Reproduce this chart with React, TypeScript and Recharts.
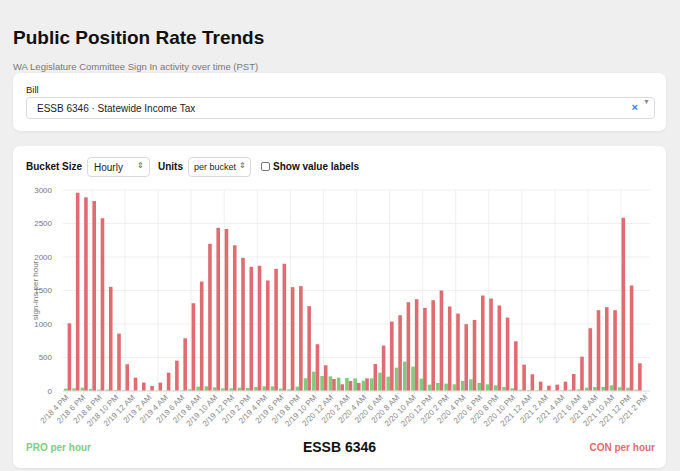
import { BarChart, Bar, XAxis, YAxis, CartesianGrid } from "recharts";

const hours = [
  "2/18 4 PM", "2/18 5 PM", "2/18 6 PM", "2/18 7 PM", "2/18 8 PM", "2/18 9 PM", "2/18 10 PM", "2/18 11 PM",
  "2/19 12 AM", "2/19 1 AM", "2/19 2 AM", "2/19 3 AM", "2/19 4 AM", "2/19 5 AM", "2/19 6 AM", "2/19 7 AM",
  "2/19 8 AM", "2/19 9 AM", "2/19 10 AM", "2/19 11 AM", "2/19 12 PM", "2/19 1 PM", "2/19 2 PM", "2/19 3 PM",
  "2/19 4 PM", "2/19 5 PM", "2/19 6 PM", "2/19 7 PM", "2/19 8 PM", "2/19 9 PM", "2/19 10 PM", "2/19 11 PM",
  "2/20 12 AM", "2/20 1 AM", "2/20 2 AM", "2/20 3 AM", "2/20 4 AM", "2/20 5 AM", "2/20 6 AM", "2/20 7 AM",
  "2/20 8 AM", "2/20 9 AM", "2/20 10 AM", "2/20 11 AM", "2/20 12 PM", "2/20 1 PM", "2/20 2 PM", "2/20 3 PM",
  "2/20 4 PM", "2/20 5 PM", "2/20 6 PM", "2/20 7 PM", "2/20 8 PM", "2/20 9 PM", "2/20 10 PM", "2/20 11 PM",
  "2/21 12 AM", "2/21 1 AM", "2/21 2 AM", "2/21 3 AM", "2/21 4 AM", "2/21 5 AM", "2/21 6 AM", "2/21 7 AM",
  "2/21 8 AM", "2/21 9 AM", "2/21 10 AM", "2/21 11 AM", "2/21 12 PM", "2/21 1 PM", "2/21 2 PM",
];

const pro = [
  35, 40, 50, 30, 20, 20, 15, 10, 5, 3, 3, 3, 3, 5, 10, 25,
  65, 70, 55, 40, 40, 50, 45, 60, 70, 70, 35, 25, 65, 190, 289, 224,
  219, 199, 194, 189, 154, 189, 274, 214, 349, 438, 364, 184, 95, 120, 110, 100,
  150, 174, 120, 100, 85, 60, 40, 20, 15, 10, 5, 5, 10, 20, 25, 50,
  60, 60, 85, 55, 50, 20, 0,
];

const con = [
  1010, 2960, 2890, 2835, 2580, 1555, 857, 399, 199, 125, 75, 125, 274, 453, 787, 1310,
  1634, 2197, 2437, 2417, 2177, 1987, 1854, 1869, 1650, 1824, 1899, 1550, 1565, 1266, 698, 384,
  179, 100, 150, 120, 189, 404, 678, 1036, 1131, 1325, 1370, 1241, 1355, 1500, 1261, 1156,
  997, 1061, 1425, 1380, 1276, 1096, 742, 394, 249, 140, 80, 95, 140, 254, 513, 937,
  1206, 1251, 1206, 2586, 1575, 414, 0,
];

const yTicks = [0, 500, 1000, 1500, 2000, 2500, 3000];

const data = hours.map((label, i) => ({ label, pro: pro[i], con: con[i] }));

const PRO_COLOR = "#7fcc7f";
const CON_COLOR = "#df6c70";
const FONT = "'Liberation Sans', Arial, Helvetica, sans-serif";

// vertical grid every 4th bucket (at bucket centre), starting with the 4th
const gridCols = ({ offset }: any) => {
  const band = offset.width / data.length;
  return data
    .map((_, i) => i)
    .filter((i) => i % 4 === 3)
    .map((i) => offset.left + band * (i + 0.5));
};

const XTick = ({ x, y, payload }: any) => (
  <text
    x={x}
    y={y}
    dy={3}
    textAnchor="end"
    transform={`rotate(-45, ${x}, ${y})`}
    fontSize={8}
    fill="#8a8a8a"
    fontFamily={FONT}
  >
    {payload.value}
  </text>
);

const selectBox = {
  position: "absolute" as const,
  height: 20,
  border: "1px solid #d9d9d9",
  borderRadius: 4,
  background: "#fff",
  boxSizing: "border-box" as const,
  fontSize: 10,
  color: "#222",
  display: "flex",
  alignItems: "center",
  paddingLeft: 6,
};

const App = () => {
  return (
    <div
      style={{
        position: "fixed",
        left: 0,
        top: 0,
        width: 680,
        height: 471,
        background: "#efefef",
        fontFamily: FONT,
        overflow: "hidden",
      }}
    >
      <div style={{ position: "absolute", left: 13, top: 27, fontSize: 19, fontWeight: 700, color: "#111" }}>
        Public Position Rate Trends
      </div>
      <div style={{ position: "absolute", left: 13, top: 61, fontSize: 9.5, color: "#777" }}>
        WA Legislature Committee Sign In activity over time (PST)
      </div>

      {/* bill picker card */}
      <div
        style={{
          position: "absolute",
          left: 13,
          top: 73,
          width: 653,
          height: 58,
          background: "#fff",
          borderRadius: 7,
          boxShadow: "0 1px 3px rgba(0,0,0,0.06)",
        }}
      >
        <div style={{ position: "absolute", left: 13, top: 11, fontSize: 9.5, color: "#222" }}>Bill</div>
        <div style={{ ...selectBox, left: 13, top: 24, width: 629, height: 22, paddingLeft: 10 }}>
          ESSB 6346 · Statewide Income Tax
          <span style={{ position: "absolute", right: 16, top: 3, color: "#3b7fd8", fontSize: 11, fontWeight: 700 }}>
            ×
          </span>
          <span style={{ position: "absolute", right: 4, top: 0, color: "#888", fontSize: 7 }}>▼</span>
        </div>
      </div>

      {/* chart card */}
      <div
        style={{
          position: "absolute",
          left: 13,
          top: 146,
          width: 653,
          height: 322,
          background: "#fff",
          borderRadius: 7,
          boxShadow: "0 1px 3px rgba(0,0,0,0.06)",
        }}
      >
        <div style={{ position: "absolute", left: 13, top: 15, fontSize: 10, fontWeight: 700, color: "#111" }}>
          Bucket Size
        </div>
        <div style={{ ...selectBox, left: 74, top: 11, width: 63 }}>
          Hourly
          <span style={{ position: "absolute", right: 5, top: 3, fontSize: 8, color: "#555" }}>⇕</span>
        </div>
        <div style={{ position: "absolute", left: 145, top: 15, fontSize: 10, fontWeight: 700, color: "#111" }}>
          Units
        </div>
        <div style={{ ...selectBox, left: 175, top: 11, width: 63, fontSize: 9, paddingLeft: 5 }}>
          per bucket
          <span style={{ position: "absolute", right: 4, top: 3, fontSize: 8, color: "#555" }}>⇕</span>
        </div>
        <div
          style={{
            position: "absolute",
            left: 248,
            top: 16,
            width: 9,
            height: 9,
            border: "1px solid #777",
            borderRadius: 2,
            boxSizing: "border-box",
          }}
        />
        <div style={{ position: "absolute", left: 260, top: 15, fontSize: 10, fontWeight: 700, color: "#111" }}>
          Show value labels
        </div>

        <div style={{ position: "absolute", left: 13, top: 296, fontSize: 10, fontWeight: 700, color: PRO_COLOR }}>
          PRO per hour
        </div>
        <div
          style={{
            position: "absolute",
            left: 0,
            width: 653,
            top: 293,
            textAlign: "center",
            fontSize: 14,
            fontWeight: 700,
            color: "#111",
          }}
        >
          ESSB 6346
        </div>
        <div style={{ position: "absolute", right: 11, top: 296, fontSize: 10, fontWeight: 700, color: CON_COLOR }}>
          CON per hour
        </div>
      </div>

      <div style={{ position: "absolute", left: 0, top: 180 }}>
        <BarChart
          width={680}
          height={260}
          data={data}
          margin={{ top: 10, right: 30, bottom: 4, left: 20 }}
          barSize={3.6}
          barGap={0}
        >
          <CartesianGrid stroke="#efefef" verticalCoordinatesGenerator={gridCols} />
          <XAxis
            dataKey="label"
            interval={1}
            height={45}
            tick={<XTick />}
            tickLine={{ stroke: "#e2e2e2" }}
            tickSize={3}
            axisLine={{ stroke: "#e2e2e2" }}
          />
          <YAxis
            width={43}
            domain={[0, 3000]}
            ticks={yTicks}
            axisLine={false}
            tickLine={false}
            tickMargin={5}
            tick={{ fontSize: 8, fill: "#777", fontFamily: FONT }}
            label={{
              value: "sign-ins per hour",
              angle: -90,
              position: "insideLeft",
              offset: 15,
              style: { textAnchor: "middle", fontSize: 8, fill: "#777", fontFamily: FONT },
            }}
          />
          <Bar dataKey="pro" fill={PRO_COLOR} isAnimationActive={false} />
          <Bar dataKey="con" fill={CON_COLOR} isAnimationActive={false} />
        </BarChart>
      </div>
    </div>
  );
};

export default App;
